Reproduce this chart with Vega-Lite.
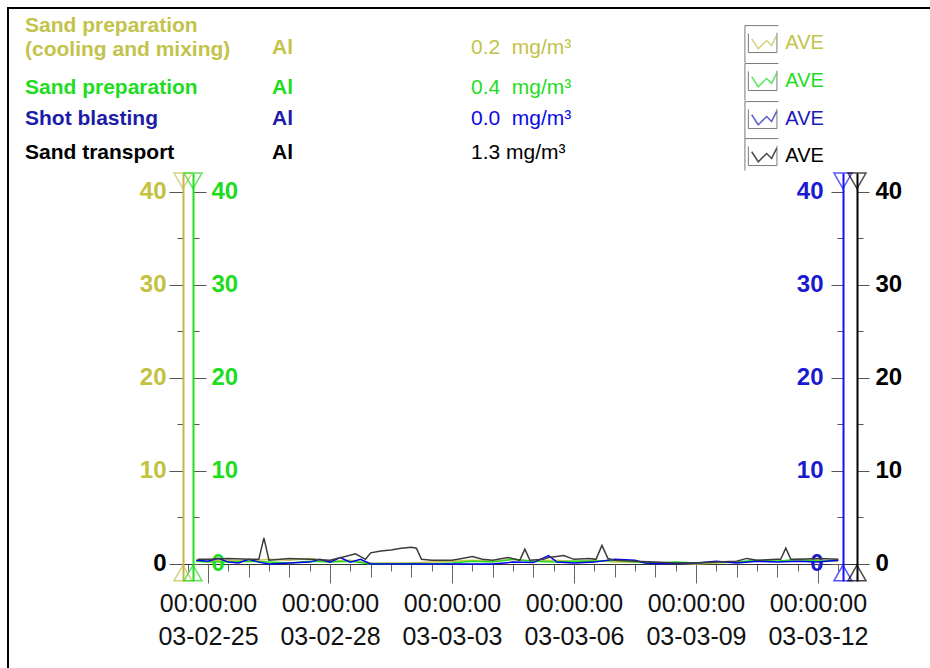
{
  "$schema": "https://vega.github.io/schema/vega-lite/v6.json",
  "width": 674,
  "height": 408,
  "autosize": {"type": "none"},
  "padding": {"left": 183, "top": 173, "right": 73, "bottom": 87},
  "background": "white",
  "datasets": {
    "legend": [
      {"no": 1, "series": "Sand preparation\n(cooling and mixing)", "substance": "Al", "average": 0.2, "unit": "mg/m³", "stat": "AVE"},
      {"no": 2, "series": "Sand preparation", "substance": "Al", "average": 0.4, "unit": "mg/m³", "stat": "AVE"},
      {"no": 3, "series": "Shot blasting", "substance": "Al", "average": 0.0, "unit": "mg/m³", "stat": "AVE"},
      {"no": 4, "series": "Sand transport", "substance": "Al", "average": 1.3, "unit": "mg/m³", "stat": "AVE"}
    ],
    "olive": [
      {"t": "2003-02-24T17:00", "v": 0.4}, {"t": "2003-02-25T00:00", "v": 0.3}, {"t": "2003-02-25T12:00", "v": 0.4},
      {"t": "2003-02-26T00:00", "v": 0.3}, {"t": "2003-02-26T12:00", "v": 0.5}, {"t": "2003-02-27T00:00", "v": 0.4},
      {"t": "2003-02-27T12:00", "v": 0.6}, {"t": "2003-02-28T00:00", "v": 0.3}, {"t": "2003-02-28T12:00", "v": 0.4},
      {"t": "2003-03-01T00:00", "v": 0.1}, {"t": "2003-03-01T12:00", "v": 0.1}, {"t": "2003-03-02T00:00", "v": 0.1},
      {"t": "2003-03-02T12:00", "v": 0.2}, {"t": "2003-03-03T00:00", "v": 0.3}, {"t": "2003-03-03T12:00", "v": 0.4},
      {"t": "2003-03-04T00:00", "v": 0.3}, {"t": "2003-03-04T12:00", "v": 0.5}, {"t": "2003-03-05T00:00", "v": 0.3},
      {"t": "2003-03-05T12:00", "v": 0.4}, {"t": "2003-03-06T00:00", "v": 0.3}, {"t": "2003-03-06T12:00", "v": 0.4},
      {"t": "2003-03-07T00:00", "v": 0.2}, {"t": "2003-03-07T12:00", "v": 0.2}, {"t": "2003-03-08T00:00", "v": 0.1},
      {"t": "2003-03-08T12:00", "v": 0.1}, {"t": "2003-03-09T00:00", "v": 0.0}, {"t": "2003-03-09T12:00", "v": 0.1},
      {"t": "2003-03-10T00:00", "v": 0.2}, {"t": "2003-03-10T12:00", "v": 0.3}, {"t": "2003-03-11T00:00", "v": 0.3},
      {"t": "2003-03-11T12:00", "v": 0.4}, {"t": "2003-03-12T00:00", "v": 0.4}, {"t": "2003-03-12T12:00", "v": 0.3}
    ],
    "green": [
      {"t": "2003-02-24T17:00", "v": 0.3}, {"t": "2003-02-25T00:00", "v": 0.2}, {"t": "2003-02-25T12:00", "v": 0.2},
      {"t": "2003-02-26T00:00", "v": 0.3}, {"t": "2003-02-26T12:00", "v": 0.2}, {"t": "2003-02-27T00:00", "v": 0.1},
      {"t": "2003-02-27T12:00", "v": 0.3}, {"t": "2003-02-28T00:00", "v": 0.2}, {"t": "2003-02-28T12:00", "v": 0.3},
      {"t": "2003-03-01T00:00", "v": 0.0}, {"t": "2003-03-01T12:00", "v": 0.0}, {"t": "2003-03-02T00:00", "v": 0.05},
      {"t": "2003-03-02T12:00", "v": 0.0}, {"t": "2003-03-03T00:00", "v": 0.1}, {"t": "2003-03-03T12:00", "v": 0.3},
      {"t": "2003-03-04T00:00", "v": 0.2}, {"t": "2003-03-04T12:00", "v": 0.5}, {"t": "2003-03-05T00:00", "v": 0.3},
      {"t": "2003-03-05T12:00", "v": 0.2}, {"t": "2003-03-06T00:00", "v": 0.3}, {"t": "2003-03-06T12:00", "v": 0.3},
      {"t": "2003-03-07T00:00", "v": 0.4}, {"t": "2003-03-07T12:00", "v": 0.2}, {"t": "2003-03-08T00:00", "v": 0.1},
      {"t": "2003-03-08T12:00", "v": 0.2}, {"t": "2003-03-09T00:00", "v": 0.1}, {"t": "2003-03-09T12:00", "v": 0.2},
      {"t": "2003-03-10T00:00", "v": 0.2}, {"t": "2003-03-10T12:00", "v": 0.4}, {"t": "2003-03-11T00:00", "v": 0.3},
      {"t": "2003-03-11T12:00", "v": 0.5}, {"t": "2003-03-12T00:00", "v": 0.3}, {"t": "2003-03-12T12:00", "v": 0.4}
    ],
    "blue": [
      {"t": "2003-02-24T17:00", "v": 0.4}, {"t": "2003-02-25T00:00", "v": 0.3}, {"t": "2003-02-25T06:00", "v": 0.6},
      {"t": "2003-02-25T12:00", "v": 0.2}, {"t": "2003-02-25T18:00", "v": 0.1}, {"t": "2003-02-26T00:00", "v": 0.5},
      {"t": "2003-02-26T06:00", "v": 0.2}, {"t": "2003-02-26T12:00", "v": 0.0}, {"t": "2003-02-27T00:00", "v": 0.1},
      {"t": "2003-02-27T12:00", "v": 0.2}, {"t": "2003-02-27T18:00", "v": 0.5}, {"t": "2003-02-28T00:00", "v": 0.2},
      {"t": "2003-02-28T06:00", "v": 0.7}, {"t": "2003-02-28T12:00", "v": 0.2}, {"t": "2003-02-28T18:00", "v": 0.5},
      {"t": "2003-03-01T00:00", "v": 0.0}, {"t": "2003-03-01T12:00", "v": 0.0}, {"t": "2003-03-02T00:00", "v": 0.0},
      {"t": "2003-03-02T12:00", "v": 0.0}, {"t": "2003-03-03T00:00", "v": 0.0}, {"t": "2003-03-03T12:00", "v": 0.0},
      {"t": "2003-03-04T00:00", "v": 0.0}, {"t": "2003-03-04T12:00", "v": 0.2}, {"t": "2003-03-05T00:00", "v": 0.15},
      {"t": "2003-03-05T09:00", "v": 0.9}, {"t": "2003-03-05T14:00", "v": 0.2}, {"t": "2003-03-06T00:00", "v": 0.1},
      {"t": "2003-03-06T12:00", "v": 0.2}, {"t": "2003-03-07T00:00", "v": 0.5}, {"t": "2003-03-07T12:00", "v": 0.4},
      {"t": "2003-03-07T18:00", "v": 0.1}, {"t": "2003-03-08T00:00", "v": 0.05}, {"t": "2003-03-08T12:00", "v": 0.05},
      {"t": "2003-03-09T00:00", "v": 0.1}, {"t": "2003-03-09T12:00", "v": 0.3}, {"t": "2003-03-10T00:00", "v": 0.1},
      {"t": "2003-03-10T12:00", "v": 0.3}, {"t": "2003-03-11T00:00", "v": 0.2}, {"t": "2003-03-11T12:00", "v": 0.3},
      {"t": "2003-03-12T00:00", "v": 0.2}, {"t": "2003-03-12T12:00", "v": 0.4}
    ],
    "black": [
      {"t": "2003-02-24T18:00", "v": 0.5}, {"t": "2003-02-25T00:00", "v": 0.5}, {"t": "2003-02-25T12:00", "v": 0.6},
      {"t": "2003-02-26T00:00", "v": 0.5}, {"t": "2003-02-26T06:00", "v": 0.5}, {"t": "2003-02-26T09:00", "v": 2.8},
      {"t": "2003-02-26T12:00", "v": 0.4}, {"t": "2003-02-27T00:00", "v": 0.6}, {"t": "2003-02-27T12:00", "v": 0.5},
      {"t": "2003-02-28T00:00", "v": 0.4}, {"t": "2003-02-28T09:00", "v": 0.8}, {"t": "2003-02-28T15:00", "v": 1.1},
      {"t": "2003-02-28T21:00", "v": 0.5}, {"t": "2003-03-01T00:00", "v": 1.2}, {"t": "2003-03-01T06:00", "v": 1.4},
      {"t": "2003-03-01T12:00", "v": 1.5}, {"t": "2003-03-01T18:00", "v": 1.7}, {"t": "2003-03-02T00:00", "v": 1.8},
      {"t": "2003-03-02T03:00", "v": 1.7}, {"t": "2003-03-02T06:00", "v": 0.5}, {"t": "2003-03-02T12:00", "v": 0.4},
      {"t": "2003-03-03T00:00", "v": 0.4}, {"t": "2003-03-03T06:00", "v": 0.6}, {"t": "2003-03-03T12:00", "v": 0.8},
      {"t": "2003-03-03T18:00", "v": 0.5}, {"t": "2003-03-04T00:00", "v": 0.4}, {"t": "2003-03-04T09:00", "v": 0.7},
      {"t": "2003-03-04T16:00", "v": 0.4}, {"t": "2003-03-04T19:00", "v": 1.6}, {"t": "2003-03-04T22:00", "v": 0.4},
      {"t": "2003-03-05T06:00", "v": 0.5}, {"t": "2003-03-05T09:00", "v": 0.7}, {"t": "2003-03-05T18:00", "v": 0.9},
      {"t": "2003-03-06T00:00", "v": 0.5}, {"t": "2003-03-06T09:00", "v": 0.6}, {"t": "2003-03-06T13:00", "v": 0.5},
      {"t": "2003-03-06T16:30", "v": 2.0}, {"t": "2003-03-06T20:00", "v": 0.6}, {"t": "2003-03-07T00:00", "v": 0.4},
      {"t": "2003-03-07T12:00", "v": 0.3}, {"t": "2003-03-08T00:00", "v": 0.2}, {"t": "2003-03-08T12:00", "v": 0.1},
      {"t": "2003-03-09T00:00", "v": 0.1}, {"t": "2003-03-09T12:00", "v": 0.2}, {"t": "2003-03-10T00:00", "v": 0.3},
      {"t": "2003-03-10T06:00", "v": 0.6}, {"t": "2003-03-10T12:00", "v": 0.4}, {"t": "2003-03-11T00:00", "v": 0.5},
      {"t": "2003-03-11T02:00", "v": 0.5}, {"t": "2003-03-11T05:00", "v": 1.7}, {"t": "2003-03-11T08:00", "v": 0.5},
      {"t": "2003-03-11T12:00", "v": 0.5}, {"t": "2003-03-12T00:00", "v": 0.6}, {"t": "2003-03-12T12:00", "v": 0.5}
    ]
  },
  "layer": [
    {
      "data": {"name": "olive"},
      "mark": {"type": "line", "color": "#c3c34b", "strokeWidth": 1.5},
      "encoding": {
        "x": {"field": "t", "type": "temporal",
          "scale": {"domain": [{"year": 2003, "month": 2, "date": 24, "hours": 9, "minutes": 15}, {"year": 2003, "month": 3, "date": 12, "hours": 23, "minutes": 2}]},
          "axis": {"title": null, "orient": "bottom", "offset": -17, "grid": false,
            "values": [
              {"year": 2003, "month": 2, "date": 24, "hours": 12}, {"year": 2003, "month": 2, "date": 25}, {"year": 2003, "month": 2, "date": 25, "hours": 12},
              {"year": 2003, "month": 2, "date": 26}, {"year": 2003, "month": 2, "date": 26, "hours": 12}, {"year": 2003, "month": 2, "date": 27},
              {"year": 2003, "month": 2, "date": 27, "hours": 12}, {"year": 2003, "month": 2, "date": 28}, {"year": 2003, "month": 2, "date": 28, "hours": 12},
              {"year": 2003, "month": 3, "date": 1}, {"year": 2003, "month": 3, "date": 1, "hours": 12}, {"year": 2003, "month": 3, "date": 2},
              {"year": 2003, "month": 3, "date": 2, "hours": 12}, {"year": 2003, "month": 3, "date": 3}, {"year": 2003, "month": 3, "date": 3, "hours": 12},
              {"year": 2003, "month": 3, "date": 4}, {"year": 2003, "month": 3, "date": 4, "hours": 12}, {"year": 2003, "month": 3, "date": 5},
              {"year": 2003, "month": 3, "date": 5, "hours": 12}, {"year": 2003, "month": 3, "date": 6}, {"year": 2003, "month": 3, "date": 6, "hours": 12},
              {"year": 2003, "month": 3, "date": 7}, {"year": 2003, "month": 3, "date": 7, "hours": 12}, {"year": 2003, "month": 3, "date": 8},
              {"year": 2003, "month": 3, "date": 8, "hours": 12}, {"year": 2003, "month": 3, "date": 9}, {"year": 2003, "month": 3, "date": 9, "hours": 12},
              {"year": 2003, "month": 3, "date": 10}, {"year": 2003, "month": 3, "date": 10, "hours": 12}, {"year": 2003, "month": 3, "date": 11},
              {"year": 2003, "month": 3, "date": 11, "hours": 12}, {"year": 2003, "month": 3, "date": 12}, {"year": 2003, "month": 3, "date": 12, "hours": 12}
            ],
            "domainColor": "#333333", "domainWidth": 1, "tickColor": "#666666", "tickWidth": 1,
            "tickSize": {"condition": {"test": "hours(datum.value) == 0 && date(datum.value) % 3 == (month(datum.value) == 1 ? 1 : 0)", "value": 19}, "value": 7},
            "labelExpr": "hours(datum.value) == 0 && date(datum.value) % 3 == (month(datum.value) == 1 ? 1 : 0) ? [timeFormat(datum.value, '%H:%M:%S'), timeFormat(datum.value, '%y-%m-%d')] : ''",
            "labelOverlap": false, "labelFlush": false, "labelAngle": 0, "labelFontSize": 25, "labelColor": "#111111",
            "labelLineHeight": 33, "labelPadding": 8, "labelBaseline": "top"}},
        "y": {"field": "v", "type": "quantitative", "scale": {"domain": [-1.83, 42.04]},
          "axis": {"title": null, "orient": "left", "offset": 0, "grid": false, "values": [0, 5, 10, 15, 20, 25, 30, 35, 40],
            "labelExpr": "datum.value % 10 == 0 ? datum.label : ''", "labelOverlap": false,
            "domainColor": "#c8b44c", "domainWidth": 2, "tickColor": "#555555",
            "tickSize": {"condition": {"test": "datum.value % 10 != 0", "value": 6}, "value": 14},
            "labelColor": {"condition": {"test": "datum.value == 0", "value": "#000000"}, "value": "#c2c240"},
            "labelFontSize": 24, "labelFontWeight": "bold", "labelPadding": 3}}
      }
    },
    {
      "data": {"name": "green"},
      "mark": {"type": "line", "color": "#1fdc1f", "strokeWidth": 1.5},
      "encoding": {
        "x": {"field": "t", "type": "temporal",
          "axis": {"title": null, "orient": "bottom", "offset": -17, "grid": false, "domain": false, "labels": false,
            "values": [
              {"year": 2003, "month": 2, "date": 25}, {"year": 2003, "month": 2, "date": 26}, {"year": 2003, "month": 2, "date": 27},
              {"year": 2003, "month": 2, "date": 28}, {"year": 2003, "month": 3, "date": 1}, {"year": 2003, "month": 3, "date": 2},
              {"year": 2003, "month": 3, "date": 3}, {"year": 2003, "month": 3, "date": 4}, {"year": 2003, "month": 3, "date": 5},
              {"year": 2003, "month": 3, "date": 6}, {"year": 2003, "month": 3, "date": 7}, {"year": 2003, "month": 3, "date": 8},
              {"year": 2003, "month": 3, "date": 9}, {"year": 2003, "month": 3, "date": 10}, {"year": 2003, "month": 3, "date": 11},
              {"year": 2003, "month": 3, "date": 12}
            ],
            "tickColor": "#666666", "tickWidth": 1, "tickSize": 13}},
        "y": {"field": "v", "type": "quantitative", "scale": {"domain": [-1.83, 42.04]},
          "axis": {"title": null, "orient": "right", "offset": -664, "grid": false, "values": [0, 5, 10, 15, 20, 25, 30, 35, 40],
            "labelExpr": "datum.value % 10 == 0 ? datum.label : ''", "labelOverlap": false,
            "domainColor": "#20e020", "domainWidth": 2, "tickColor": "#555555",
            "tickSize": {"condition": {"test": "datum.value % 10 != 0", "value": 6}, "value": 13},
            "labelColor": "#1fdc1f", "labelFontSize": 24, "labelFontWeight": "bold", "labelPadding": 5}}
      }
    },
    {
      "data": {"name": "blue"},
      "mark": {"type": "line", "color": "#0000f0", "strokeWidth": 1.5},
      "encoding": {
        "x": {"field": "t", "type": "temporal", "axis": null},
        "y": {"field": "v", "type": "quantitative", "scale": {"domain": [-1.83, 42.04]},
          "axis": {"title": null, "orient": "left", "offset": -660, "grid": false, "values": [0, 5, 10, 15, 20, 25, 30, 35, 40],
            "labelExpr": "datum.value % 10 == 0 ? datum.label : ''", "labelOverlap": false,
            "domainColor": "#1010ff", "domainWidth": 2, "tickColor": "#555555",
            "tickSize": {"condition": {"test": "datum.value % 10 != 0", "value": 6}, "value": 12},
            "labelColor": "#1a1ad0", "labelFontSize": 24, "labelFontWeight": "bold", "labelPadding": 8}}
      }
    },
    {
      "data": {"name": "black"},
      "mark": {"type": "line", "color": "#3c3c3c", "strokeWidth": 1.5},
      "encoding": {
        "x": {"field": "t", "type": "temporal", "axis": null},
        "y": {"field": "v", "type": "quantitative", "scale": {"domain": [-1.83, 42.04]},
          "axis": {"title": null, "orient": "right", "offset": 0, "grid": false, "values": [0, 5, 10, 15, 20, 25, 30, 35, 40],
            "labelExpr": "datum.value % 10 == 0 ? datum.label : ''", "labelOverlap": false,
            "domainColor": "#000000", "domainWidth": 2, "tickColor": "#555555",
            "tickSize": {"condition": {"test": "datum.value % 10 != 0", "value": 6}, "value": 12},
            "labelColor": "#000000", "labelFontSize": 24, "labelFontWeight": "bold", "labelPadding": 6}}
      }
    },
    {"data": {"name": "legend"}, "transform": [{"filter": "datum.no == 1"}],
      "mark": {"type": "rect", "filled": false, "color": "#000000", "strokeWidth": 2},
      "encoding": {
        "x": {"datum": {"year": 2003, "month": 2, "date": 20, "hours": 1, "minutes": 58}, "type": "temporal", "axis": null},
        "x2": {"datum": {"year": 2003, "month": 3, "date": 16}},
        "y": {"datum": 59.78, "type": "quantitative", "scale": {"domain": [-1.83, 42.04]}, "axis": null},
        "y2": {"datum": -13}}},

    {"data": {"name": "legend"}, "transform": [{"filter": "datum.no == 1"}],
      "mark": {"type": "point", "shape": "triangle-down", "size": 324, "filled": false, "color": "#c3c34b", "strokeWidth": 1.5},
      "encoding": {
        "x": {"datum": {"year": 2003, "month": 2, "date": 24, "hours": 9, "minutes": 15}, "type": "temporal", "axis": null},
        "y": {"datum": 41.2, "type": "quantitative", "scale": {"domain": [-1.83, 42.04]}, "axis": null}}},
    {"data": {"name": "legend"}, "transform": [{"filter": "datum.no == 1"}],
      "mark": {"type": "point", "shape": "triangle-up", "size": 324, "filled": false, "color": "#c3c34b", "strokeWidth": 1.5},
      "encoding": {
        "x": {"datum": {"year": 2003, "month": 2, "date": 24, "hours": 9, "minutes": 15}, "type": "temporal", "axis": null},
        "y": {"datum": -0.97, "type": "quantitative", "scale": {"domain": [-1.83, 42.04]}, "axis": null}}},
    {"data": {"name": "legend"}, "transform": [{"filter": "datum.no == 1"}],
      "mark": {"type": "text", "align": "left", "baseline": "middle", "fontSize": 21, "fontWeight": "bold", "color": "#c3c34b", "lineBreak": "\n", "lineHeight": 24},
      "encoding": {
        "x": {"datum": {"year": 2003, "month": 2, "date": 20, "hours": 12}, "type": "temporal", "axis": null},
        "y": {"datum": 57.85, "type": "quantitative", "scale": {"domain": [-1.83, 42.04]}, "axis": null},
        "text": {"field": "series"}}},
    {"data": {"name": "legend"}, "transform": [{"filter": "datum.no == 1"}],
      "mark": {"type": "text", "align": "left", "baseline": "middle", "fontSize": 21, "fontWeight": "bold", "color": "#c3c34b"},
      "encoding": {
        "x": {"datum": {"year": 2003, "month": 2, "date": 26, "hours": 13, "minutes": 46}, "type": "temporal", "axis": null},
        "y": {"datum": 55.48, "type": "quantitative", "scale": {"domain": [-1.83, 42.04]}, "axis": null},
        "text": {"field": "substance"}}},
    {"data": {"name": "legend"}, "transform": [{"filter": "datum.no == 1"}, {"calculate": "format(datum.average, '.1f') + '\u00a0\u00a0' + datum.unit", "as": "avgLabel"}],
      "mark": {"type": "text", "align": "left", "baseline": "middle", "fontSize": 21, "color": "#c3c34b"},
      "encoding": {
        "x": {"datum": {"year": 2003, "month": 3, "date": 3, "hours": 11, "minutes": 13}, "type": "temporal", "axis": null},
        "y": {"datum": 55.48, "type": "quantitative", "scale": {"domain": [-1.83, 42.04]}, "axis": null},
        "text": {"field": "avgLabel"}}},
    {"data": {"name": "legend"}, "transform": [{"filter": "datum.no == 1"}],
      "mark": {"type": "point", "shape": "M-1.21,1.36 L-1.21,-1.2 L1.1,-1.2 M-0.97,-0.66 L-0.97,0.66 L1,0.66 L1,-0.7", "size": 841, "filled": false, "color": "#444444", "strokeWidth": 1},
      "encoding": {
        "x": {"datum": {"year": 2003, "month": 3, "date": 10, "hours": 15, "minutes": 14}, "type": "temporal", "axis": null},
        "y": {"datum": 56.02, "type": "quantitative", "scale": {"domain": [-1.83, 42.04]}, "axis": null}}},
    {"data": {"name": "legend"}, "transform": [{"filter": "datum.no == 1"}],
      "mark": {"type": "point", "shape": "M-0.74,-0.29 L-0.29,0.4 L0.29,-0.17 L0.63,0.17 L0.98,-0.52", "size": 841, "filled": false, "color": "#c3c34b", "strokeWidth": 1.5},
      "encoding": {
        "x": {"datum": {"year": 2003, "month": 3, "date": 10, "hours": 15, "minutes": 14}, "type": "temporal", "axis": null},
        "y": {"datum": 56.02, "type": "quantitative", "scale": {"domain": [-1.83, 42.04]}, "axis": null}}},
    {"data": {"name": "legend"}, "transform": [{"filter": "datum.no == 1"}],
      "mark": {"type": "text", "align": "left", "baseline": "middle", "fontSize": 20, "color": "#c3c34b"},
      "encoding": {
        "x": {"datum": {"year": 2003, "month": 3, "date": 11, "hours": 4, "minutes": 44}, "type": "temporal", "axis": null},
        "y": {"datum": 56.02, "type": "quantitative", "scale": {"domain": [-1.83, 42.04]}, "axis": null},
        "text": {"field": "stat"}}},

    {"data": {"name": "legend"}, "transform": [{"filter": "datum.no == 2"}],
      "mark": {"type": "point", "shape": "triangle-down", "size": 324, "filled": false, "color": "#1fdc1f", "strokeWidth": 1.5},
      "encoding": {
        "x": {"datum": {"year": 2003, "month": 2, "date": 24, "hours": 15, "minutes": 9}, "type": "temporal", "axis": null},
        "y": {"datum": 41.2, "type": "quantitative", "scale": {"domain": [-1.83, 42.04]}, "axis": null}}},
    {"data": {"name": "legend"}, "transform": [{"filter": "datum.no == 2"}],
      "mark": {"type": "point", "shape": "triangle-up", "size": 324, "filled": false, "color": "#1fdc1f", "strokeWidth": 1.5},
      "encoding": {
        "x": {"datum": {"year": 2003, "month": 2, "date": 24, "hours": 15, "minutes": 9}, "type": "temporal", "axis": null},
        "y": {"datum": -0.97, "type": "quantitative", "scale": {"domain": [-1.83, 42.04]}, "axis": null}}},
    {"data": {"name": "legend"}, "transform": [{"filter": "datum.no == 2"}],
      "mark": {"type": "text", "align": "left", "baseline": "middle", "fontSize": 21, "fontWeight": "bold", "color": "#1fdc1f"},
      "encoding": {
        "x": {"datum": {"year": 2003, "month": 2, "date": 20, "hours": 12}, "type": "temporal", "axis": null},
        "y": {"datum": 51.18, "type": "quantitative", "scale": {"domain": [-1.83, 42.04]}, "axis": null},
        "text": {"field": "series"}}},
    {"data": {"name": "legend"}, "transform": [{"filter": "datum.no == 2"}],
      "mark": {"type": "text", "align": "left", "baseline": "middle", "fontSize": 21, "fontWeight": "bold", "color": "#1fdc1f"},
      "encoding": {
        "x": {"datum": {"year": 2003, "month": 2, "date": 26, "hours": 13, "minutes": 46}, "type": "temporal", "axis": null},
        "y": {"datum": 51.18, "type": "quantitative", "scale": {"domain": [-1.83, 42.04]}, "axis": null},
        "text": {"field": "substance"}}},
    {"data": {"name": "legend"}, "transform": [{"filter": "datum.no == 2"}, {"calculate": "format(datum.average, '.1f') + '\u00a0\u00a0' + datum.unit", "as": "avgLabel"}],
      "mark": {"type": "text", "align": "left", "baseline": "middle", "fontSize": 21, "color": "#1fdc1f"},
      "encoding": {
        "x": {"datum": {"year": 2003, "month": 3, "date": 3, "hours": 11, "minutes": 13}, "type": "temporal", "axis": null},
        "y": {"datum": 51.18, "type": "quantitative", "scale": {"domain": [-1.83, 42.04]}, "axis": null},
        "text": {"field": "avgLabel"}}},
    {"data": {"name": "legend"}, "transform": [{"filter": "datum.no == 2"}],
      "mark": {"type": "point", "shape": "M-1.21,1.36 L-1.21,-1.2 L1.1,-1.2 M-0.97,-0.66 L-0.97,0.66 L1,0.66 L1,-0.7", "size": 841, "filled": false, "color": "#444444", "strokeWidth": 1},
      "encoding": {
        "x": {"datum": {"year": 2003, "month": 3, "date": 10, "hours": 15, "minutes": 14}, "type": "temporal", "axis": null},
        "y": {"datum": 51.94, "type": "quantitative", "scale": {"domain": [-1.83, 42.04]}, "axis": null}}},
    {"data": {"name": "legend"}, "transform": [{"filter": "datum.no == 2"}],
      "mark": {"type": "point", "shape": "M-0.74,-0.29 L-0.29,0.4 L0.29,-0.17 L0.63,0.17 L0.98,-0.52", "size": 841, "filled": false, "color": "#1fdc1f", "strokeWidth": 1.5},
      "encoding": {
        "x": {"datum": {"year": 2003, "month": 3, "date": 10, "hours": 15, "minutes": 14}, "type": "temporal", "axis": null},
        "y": {"datum": 51.94, "type": "quantitative", "scale": {"domain": [-1.83, 42.04]}, "axis": null}}},
    {"data": {"name": "legend"}, "transform": [{"filter": "datum.no == 2"}],
      "mark": {"type": "text", "align": "left", "baseline": "middle", "fontSize": 20, "color": "#1fdc1f"},
      "encoding": {
        "x": {"datum": {"year": 2003, "month": 3, "date": 11, "hours": 4, "minutes": 44}, "type": "temporal", "axis": null},
        "y": {"datum": 51.94, "type": "quantitative", "scale": {"domain": [-1.83, 42.04]}, "axis": null},
        "text": {"field": "stat"}}},

    {"data": {"name": "legend"}, "transform": [{"filter": "datum.no == 3"}],
      "mark": {"type": "point", "shape": "triangle-down", "size": 324, "filled": false, "color": "#1010ff", "strokeWidth": 1.5},
      "encoding": {
        "x": {"datum": {"year": 2003, "month": 3, "date": 12, "hours": 14, "minutes": 44}, "type": "temporal", "axis": null},
        "y": {"datum": 41.2, "type": "quantitative", "scale": {"domain": [-1.83, 42.04]}, "axis": null}}},
    {"data": {"name": "legend"}, "transform": [{"filter": "datum.no == 3"}],
      "mark": {"type": "point", "shape": "triangle-up", "size": 324, "filled": false, "color": "#1010ff", "strokeWidth": 1.5},
      "encoding": {
        "x": {"datum": {"year": 2003, "month": 3, "date": 12, "hours": 14, "minutes": 44}, "type": "temporal", "axis": null},
        "y": {"datum": -0.97, "type": "quantitative", "scale": {"domain": [-1.83, 42.04]}, "axis": null}}},
    {"data": {"name": "legend"}, "transform": [{"filter": "datum.no == 3"}],
      "mark": {"type": "text", "align": "left", "baseline": "middle", "fontSize": 21, "fontWeight": "bold", "color": "#1c1ca8"},
      "encoding": {
        "x": {"datum": {"year": 2003, "month": 2, "date": 20, "hours": 12}, "type": "temporal", "axis": null},
        "y": {"datum": 47.85, "type": "quantitative", "scale": {"domain": [-1.83, 42.04]}, "axis": null},
        "text": {"field": "series"}}},
    {"data": {"name": "legend"}, "transform": [{"filter": "datum.no == 3"}],
      "mark": {"type": "text", "align": "left", "baseline": "middle", "fontSize": 21, "fontWeight": "bold", "color": "#1c1ca8"},
      "encoding": {
        "x": {"datum": {"year": 2003, "month": 2, "date": 26, "hours": 13, "minutes": 46}, "type": "temporal", "axis": null},
        "y": {"datum": 47.85, "type": "quantitative", "scale": {"domain": [-1.83, 42.04]}, "axis": null},
        "text": {"field": "substance"}}},
    {"data": {"name": "legend"}, "transform": [{"filter": "datum.no == 3"}, {"calculate": "format(datum.average, '.1f') + '\u00a0\u00a0' + datum.unit", "as": "avgLabel"}],
      "mark": {"type": "text", "align": "left", "baseline": "middle", "fontSize": 21, "color": "#0a0ae6"},
      "encoding": {
        "x": {"datum": {"year": 2003, "month": 3, "date": 3, "hours": 11, "minutes": 13}, "type": "temporal", "axis": null},
        "y": {"datum": 47.85, "type": "quantitative", "scale": {"domain": [-1.83, 42.04]}, "axis": null},
        "text": {"field": "avgLabel"}}},
    {"data": {"name": "legend"}, "transform": [{"filter": "datum.no == 3"}],
      "mark": {"type": "point", "shape": "M-1.21,1.36 L-1.21,-1.2 L1.1,-1.2 M-0.97,-0.66 L-0.97,0.66 L1,0.66 L1,-0.7", "size": 841, "filled": false, "color": "#444444", "strokeWidth": 1},
      "encoding": {
        "x": {"datum": {"year": 2003, "month": 3, "date": 10, "hours": 15, "minutes": 14}, "type": "temporal", "axis": null},
        "y": {"datum": 47.85, "type": "quantitative", "scale": {"domain": [-1.83, 42.04]}, "axis": null}}},
    {"data": {"name": "legend"}, "transform": [{"filter": "datum.no == 3"}],
      "mark": {"type": "point", "shape": "M-0.74,-0.29 L-0.29,0.4 L0.29,-0.17 L0.63,0.17 L0.98,-0.52", "size": 841, "filled": false, "color": "#1c1cb8", "strokeWidth": 1.5},
      "encoding": {
        "x": {"datum": {"year": 2003, "month": 3, "date": 10, "hours": 15, "minutes": 14}, "type": "temporal", "axis": null},
        "y": {"datum": 47.85, "type": "quantitative", "scale": {"domain": [-1.83, 42.04]}, "axis": null}}},
    {"data": {"name": "legend"}, "transform": [{"filter": "datum.no == 3"}],
      "mark": {"type": "text", "align": "left", "baseline": "middle", "fontSize": 20, "color": "#1c1cb8"},
      "encoding": {
        "x": {"datum": {"year": 2003, "month": 3, "date": 11, "hours": 4, "minutes": 44}, "type": "temporal", "axis": null},
        "y": {"datum": 47.85, "type": "quantitative", "scale": {"domain": [-1.83, 42.04]}, "axis": null},
        "text": {"field": "stat"}}},

    {"data": {"name": "legend"}, "transform": [{"filter": "datum.no == 4"}],
      "mark": {"type": "point", "shape": "triangle-down", "size": 324, "filled": false, "color": "#000000", "strokeWidth": 1.5},
      "encoding": {
        "x": {"datum": {"year": 2003, "month": 3, "date": 12, "hours": 23, "minutes": 2}, "type": "temporal", "axis": null},
        "y": {"datum": 41.2, "type": "quantitative", "scale": {"domain": [-1.83, 42.04]}, "axis": null}}},
    {"data": {"name": "legend"}, "transform": [{"filter": "datum.no == 4"}],
      "mark": {"type": "point", "shape": "triangle-up", "size": 324, "filled": false, "color": "#000000", "strokeWidth": 1.5},
      "encoding": {
        "x": {"datum": {"year": 2003, "month": 3, "date": 12, "hours": 23, "minutes": 2}, "type": "temporal", "axis": null},
        "y": {"datum": -0.97, "type": "quantitative", "scale": {"domain": [-1.83, 42.04]}, "axis": null}}},
    {"data": {"name": "legend"}, "transform": [{"filter": "datum.no == 4"}],
      "mark": {"type": "text", "align": "left", "baseline": "middle", "fontSize": 21, "fontWeight": "bold", "color": "#000000"},
      "encoding": {
        "x": {"datum": {"year": 2003, "month": 2, "date": 20, "hours": 12}, "type": "temporal", "axis": null},
        "y": {"datum": 44.19, "type": "quantitative", "scale": {"domain": [-1.83, 42.04]}, "axis": null},
        "text": {"field": "series"}}},
    {"data": {"name": "legend"}, "transform": [{"filter": "datum.no == 4"}],
      "mark": {"type": "text", "align": "left", "baseline": "middle", "fontSize": 21, "fontWeight": "bold", "color": "#000000"},
      "encoding": {
        "x": {"datum": {"year": 2003, "month": 2, "date": 26, "hours": 13, "minutes": 46}, "type": "temporal", "axis": null},
        "y": {"datum": 44.19, "type": "quantitative", "scale": {"domain": [-1.83, 42.04]}, "axis": null},
        "text": {"field": "substance"}}},
    {"data": {"name": "legend"}, "transform": [{"filter": "datum.no == 4"}, {"calculate": "format(datum.average, '.1f') + '\u00a0' + datum.unit", "as": "avgLabel"}],
      "mark": {"type": "text", "align": "left", "baseline": "middle", "fontSize": 21, "color": "#000000"},
      "encoding": {
        "x": {"datum": {"year": 2003, "month": 3, "date": 3, "hours": 11, "minutes": 13}, "type": "temporal", "axis": null},
        "y": {"datum": 44.19, "type": "quantitative", "scale": {"domain": [-1.83, 42.04]}, "axis": null},
        "text": {"field": "avgLabel"}}},
    {"data": {"name": "legend"}, "transform": [{"filter": "datum.no == 4"}],
      "mark": {"type": "point", "shape": "M-1.21,1.0 L-1.21,-1.2 L1.1,-1.2 M-0.97,-0.66 L-0.97,0.66 L1,0.66 L1,-0.7", "size": 841, "filled": false, "color": "#444444", "strokeWidth": 1},
      "encoding": {
        "x": {"datum": {"year": 2003, "month": 3, "date": 10, "hours": 15, "minutes": 14}, "type": "temporal", "axis": null},
        "y": {"datum": 43.87, "type": "quantitative", "scale": {"domain": [-1.83, 42.04]}, "axis": null}}},
    {"data": {"name": "legend"}, "transform": [{"filter": "datum.no == 4"}],
      "mark": {"type": "point", "shape": "M-0.74,-0.29 L-0.29,0.4 L0.29,-0.17 L0.63,0.17 L0.98,-0.52", "size": 841, "filled": false, "color": "#000000", "strokeWidth": 1.5},
      "encoding": {
        "x": {"datum": {"year": 2003, "month": 3, "date": 10, "hours": 15, "minutes": 14}, "type": "temporal", "axis": null},
        "y": {"datum": 43.87, "type": "quantitative", "scale": {"domain": [-1.83, 42.04]}, "axis": null}}},
    {"data": {"name": "legend"}, "transform": [{"filter": "datum.no == 4"}],
      "mark": {"type": "text", "align": "left", "baseline": "middle", "fontSize": 20, "color": "#000000"},
      "encoding": {
        "x": {"datum": {"year": 2003, "month": 3, "date": 11, "hours": 4, "minutes": 44}, "type": "temporal", "axis": null},
        "y": {"datum": 43.87, "type": "quantitative", "scale": {"domain": [-1.83, 42.04]}, "axis": null},
        "text": {"field": "stat"}}}
  ],
  "resolve": {"scale": {"y": "independent"}, "axis": {"x": "independent", "y": "independent"}},
  "config": {
    "font": "Liberation Sans",
    "view": {"stroke": null},
    "axis": {"labelFont": "Liberation Sans"}
  }
}
